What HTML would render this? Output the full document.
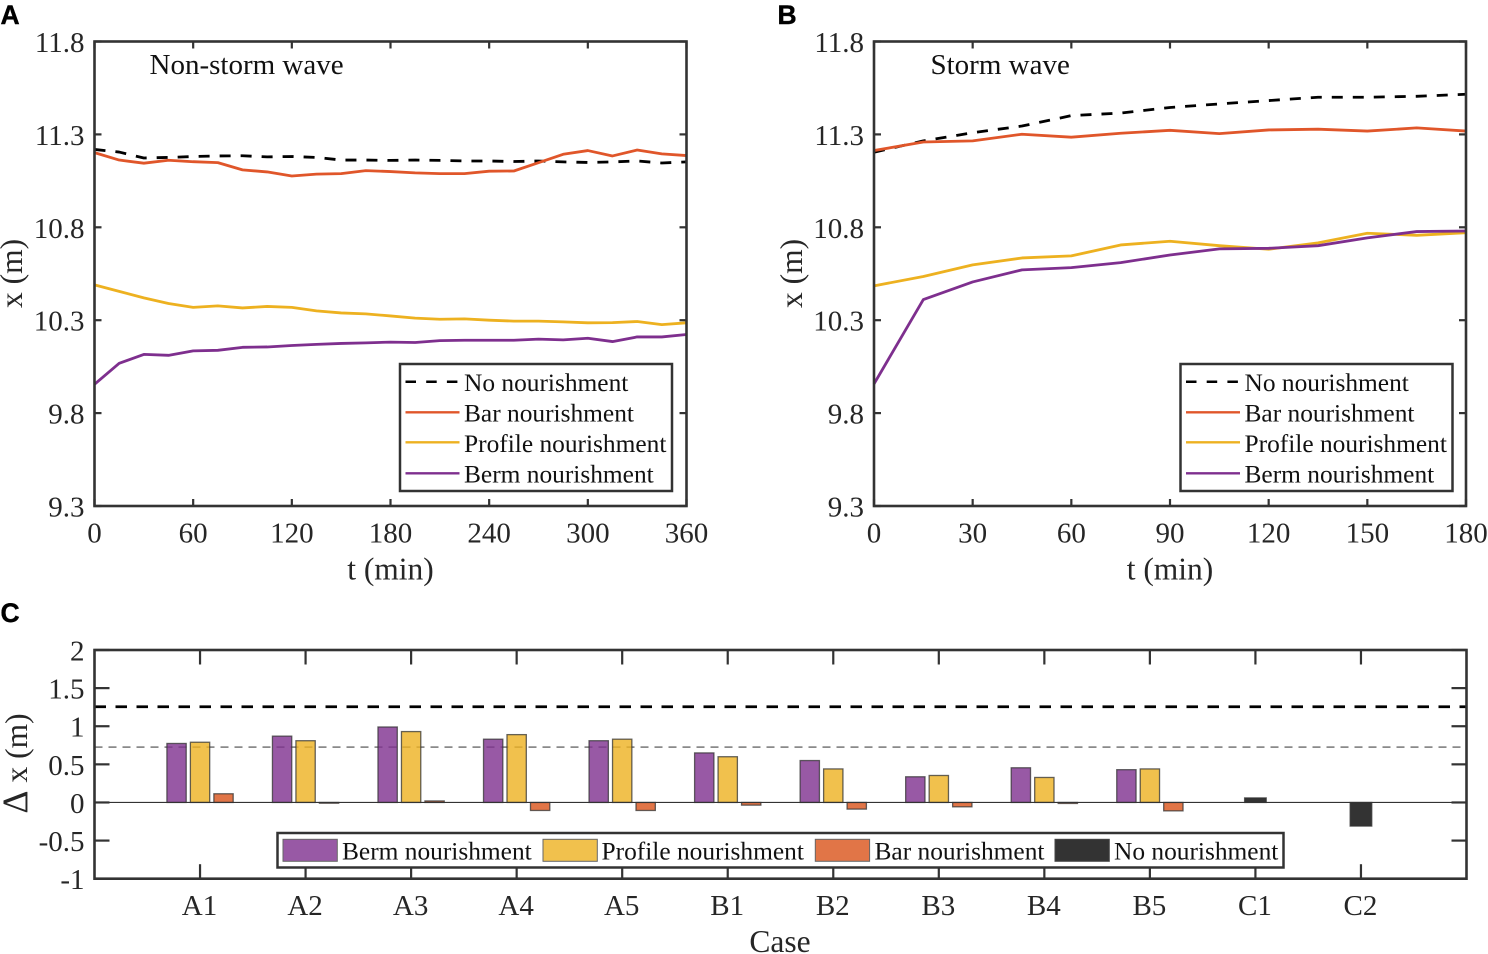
<!DOCTYPE html>
<html lang="en">
<head>
<meta charset="utf-8">
<title>Shoreline position under nourishment scenarios</title>
<style>
html,body{margin:0;padding:0;background:#fff;width:1488px;height:954px;overflow:hidden}
svg{display:block}
text{font-family:"Liberation Serif",serif;fill:#262626}
.panel-letter{font-family:"Liberation Sans",sans-serif;font-weight:700;font-size:26.5px;fill:#000;stroke:#000;stroke-width:.4}
.tick{font-size:29px}
.label{font-size:31.5px}
.note{font-size:29px;fill:#111}
.leg{font-size:25.4px;fill:#111}
.legc{font-size:25.4px;fill:#111}
</style>
</head>
<body>
<svg id="figure" xmlns="http://www.w3.org/2000/svg" width="1488" height="954" viewBox="0 0 1488 954">
  <text class="panel-letter" x="0.5" y="24">A</text>
  <text class="panel-letter" x="777.5" y="24">B</text>
  <text class="panel-letter" x="0.5" y="622">C</text>
  <g id="panelA"></g>
  <g id="panelB"></g>
  <g id="panelC"></g>

  <text class="note" x="149.5" y="74">Non-storm wave</text>
  <text class="note" x="930.5" y="74">Storm wave</text>

  <text class="label" x="390.5" y="579.5" text-anchor="middle">t (min)</text>
  <text class="label" x="1170" y="579.5" text-anchor="middle">t (min)</text>
  <text class="label" transform="translate(22,273.5) rotate(-90)" text-anchor="middle">x (m)</text>
  <text class="label" transform="translate(802,273.5) rotate(-90)" text-anchor="middle">x (m)</text>
  <text class="label" transform="translate(27,763.5) rotate(-90)" text-anchor="middle"><tspan font-size="36">Δ</tspan> x (m)</text>
  <text class="label" x="780" y="952" text-anchor="middle">Case</text>

  <g>
    <rect x="400" y="364" width="272" height="127" fill="#fff" stroke="#333" stroke-width="2.5"/>
    <line x1="405.5" x2="459.5" y1="381.7" y2="381.7" stroke="#000" stroke-width="2.5" stroke-dasharray="10.5 10.2"/>
    <line x1="405.5" x2="459.5" y1="412.3" y2="412.3" stroke="#e0562a" stroke-width="2.3"/>
    <line x1="405.5" x2="459.5" y1="442.3" y2="442.3" stroke="#edb120" stroke-width="2.3"/>
    <line x1="405.5" x2="459.5" y1="473.3" y2="473.3" stroke="#7e2f8e" stroke-width="2.3"/>
    <text class="leg" x="464" y="391.2">No nourishment</text>
    <text class="leg" x="464" y="421.5">Bar nourishment</text>
    <text class="leg" x="464" y="452">Profile nourishment</text>
    <text class="leg" x="464" y="482.5">Berm nourishment</text>
  </g>
  <g>
    <rect x="1180.5" y="364" width="272" height="127" fill="#fff" stroke="#333" stroke-width="2.5"/>
    <line x1="1186" x2="1240" y1="381.7" y2="381.7" stroke="#000" stroke-width="2.5" stroke-dasharray="10.5 10.2"/>
    <line x1="1186" x2="1240" y1="412.3" y2="412.3" stroke="#e0562a" stroke-width="2.3"/>
    <line x1="1186" x2="1240" y1="442.3" y2="442.3" stroke="#edb120" stroke-width="2.3"/>
    <line x1="1186" x2="1240" y1="473.3" y2="473.3" stroke="#7e2f8e" stroke-width="2.3"/>
    <text class="leg" x="1244.5" y="391.2">No nourishment</text>
    <text class="leg" x="1244.5" y="421.5">Bar nourishment</text>
    <text class="leg" x="1244.5" y="452">Profile nourishment</text>
    <text class="leg" x="1244.5" y="482.5">Berm nourishment</text>
  </g>
  <g>
    <rect x="277.5" y="833" width="1006" height="34.5" fill="#fff" stroke="#333" stroke-width="2.5"/>
    <rect x="283" y="839.3" width="54.3" height="22" fill="#9859a5" stroke="#666" stroke-width="1"/>
    <rect x="543" y="839.3" width="54.3" height="22" fill="#f1c14d" stroke="#666" stroke-width="1"/>
    <rect x="815.3" y="839.3" width="54.3" height="22" fill="#e17547" stroke="#666" stroke-width="1"/>
    <rect x="1055" y="839.3" width="54.3" height="22" fill="#333" stroke="#444" stroke-width="1"/>
    <text class="legc" x="342" y="859.5">Berm nourishment</text>
    <text class="legc" x="601.5" y="859.5">Profile nourishment</text>
    <text class="legc" x="874.5" y="859.5">Bar nourishment</text>
    <text class="legc" x="1114" y="859.5">No nourishment</text>
  </g>
</svg>
<script>
// ---- Panel A data (non-storm wave) ----
const timeA = [0,15,30,45,60,75,90,105,120,135,150,165,180,195,210,225,240,255,270,285,300,315,330,345,360];
const noNourishA = [11.219,11.205,11.173,11.176,11.181,11.184,11.185,11.179,11.181,11.176,11.162,11.162,11.160,11.162,11.160,11.157,11.157,11.154,11.157,11.152,11.149,11.152,11.157,11.146,11.152];
const barA = [11.202,11.162,11.145,11.161,11.153,11.148,11.109,11.098,11.076,11.086,11.089,11.105,11.100,11.093,11.089,11.089,11.102,11.103,11.148,11.193,11.213,11.184,11.216,11.195,11.186];
const profileA = [10.490,10.455,10.420,10.390,10.369,10.377,10.366,10.374,10.369,10.350,10.339,10.334,10.323,10.311,10.305,10.307,10.300,10.295,10.295,10.291,10.286,10.287,10.293,10.276,10.286];
const bermA = [9.955,10.068,10.116,10.111,10.135,10.138,10.154,10.156,10.164,10.170,10.175,10.178,10.182,10.180,10.190,10.192,10.192,10.192,10.198,10.194,10.203,10.185,10.210,10.210,10.223];
const xTicksA = [0,60,120,180,240,300,360];

// ---- Panel B data (storm wave) ----
const timeB = [0,15,30,45,60,75,90,105,120,135,150,165,180];
const noNourishB = [11.204,11.265,11.309,11.345,11.401,11.415,11.445,11.464,11.482,11.500,11.500,11.505,11.516];
const barB = [11.213,11.259,11.265,11.301,11.285,11.306,11.322,11.304,11.324,11.328,11.318,11.335,11.318];
const profileB = [10.485,10.535,10.598,10.635,10.646,10.705,10.725,10.701,10.682,10.716,10.768,10.757,10.771];
const bermB = [9.957,10.411,10.506,10.571,10.583,10.610,10.651,10.684,10.687,10.701,10.743,10.777,10.780];
const xTicksB = [0,30,60,90,120,150,180];

const yTicksXT = ['11.8','11.3','10.8','10.3','9.8','9.3'];

// ---- Panel C data ----
const cases = ['A1','A2','A3','A4','A5','B1','B2','B3','B4','B5','C1','C2'];
const bermDelta = [0.774,0.87,0.99,0.83,0.81,0.65,0.55,0.337,0.455,0.43,null,null];
const profileDelta = [0.79,0.81,0.93,0.89,0.83,0.60,0.44,0.354,0.328,0.44,null,null];
const barDelta = [0.114,-0.01,0.02,-0.105,-0.105,-0.035,-0.087,-0.057,-0.013,-0.11,null,null];
const noneDelta = [null,null,null,null,null,null,null,null,null,null,0.06,-0.31];
const yTicksC = ['2','1.5','1','0.5','0','-0.5','-1'];
const refBlack = 1.256;
const refGray = 0.726;

const NS = 'http://www.w3.org/2000/svg';
function add(parent, tag, attrs, text) {
  const el = document.createElementNS(NS, tag);
  for (const k in attrs) el.setAttribute(k, attrs[k]);
  if (text !== undefined) el.textContent = text;
  parent.appendChild(el);
  return el;
}
const AXIS = '#333';

function linePanel(groupId, left, right, tMax, times, series, xTicks, prefix) {
  const g = document.getElementById(groupId);
  const top = 41.5, bottom = 506;
  const xScale = t => left + (right - left) * t / tMax;
  const yScale = v => bottom - (bottom - top) * (v - 9.3) / 2.5;

  series.forEach(s => {
    const pts = times.map((t, i) => xScale(t).toFixed(2) + ',' + yScale(s.values[i]).toFixed(2)).join(' ');
    const attrs = {points: pts, fill: 'none', stroke: s.color, 'stroke-width': 2.8, 'stroke-linejoin': 'round'};
    if (s.dash) attrs['stroke-dasharray'] = s.dash;
    const el = add(g, 'polyline', attrs);
    
    
  });

  yTicksXT.forEach(lbl => {
    const y = yScale(parseFloat(lbl));
    [[left, left + 7], [right - 7, right]].forEach(p => {
      const tk = add(g, 'line', {x1: p[0], x2: p[1], y1: y, y2: y, stroke: AXIS, 'stroke-width': 2.2});
      
      
    });
    const tx = add(g, 'text', {class: 'tick', x: left - 10, y: y + 10.5, 'text-anchor': 'end'}, lbl);
    
    
  });

  xTicks.forEach(t => {
    const x = xScale(t);
    [[top, top + 7], [bottom - 7, bottom]].forEach(p => {
      const tk = add(g, 'line', {x1: x, x2: x, y1: p[0], y2: p[1], stroke: AXIS, 'stroke-width': 2.2});
      
      
    });
    const tx = add(g, 'text', {class: 'tick', x: x, y: 542.5, 'text-anchor': 'middle'}, String(t));
    
    
  });

  const box = add(g, 'rect', {x: left, y: top, width: right - left, height: bottom - top, fill: 'none', stroke: AXIS, 'stroke-width': 2.6});
  
  
}

linePanel('panelA', 94.5, 686.5, 360, timeA, [
  {name: 'no-nourishment', values: noNourishA, color: '#000', dash: '11 10'},
  {name: 'bar-nourishment', values: barA, color: '#e0562a'},
  {name: 'profile-nourishment', values: profileA, color: '#edb120'},
  {name: 'berm-nourishment', values: bermA, color: '#7e2f8e'}
], xTicksA, 'panel-a');

linePanel('panelB', 874, 1466, 180, timeB, [
  {name: 'no-nourishment', values: noNourishB, color: '#000', dash: '11 10'},
  {name: 'bar-nourishment', values: barB, color: '#e0562a'},
  {name: 'profile-nourishment', values: profileB, color: '#edb120'},
  {name: 'berm-nourishment', values: bermB, color: '#7e2f8e'}
], xTicksB, 'panel-b');

(function barPanel() {
  const g = document.getElementById('panelC');
  const left = 94.5, right = 1466.5, top = 650, bottom = 878.7;
  const xScale = i => left + (right - left) * (i + 1) / 13;
  const yScale = v => bottom - (bottom - top) * (v + 1) / 3;

  const gray = add(g, 'line', {x1: left, x2: right, y1: yScale(refGray), y2: yScale(refGray), stroke: '#8a8a8a', 'stroke-width': 1.7, 'stroke-dasharray': '8 6'});
  
  
  const black = add(g, 'line', {x1: left, x2: right, y1: yScale(refBlack), y2: yScale(refBlack), stroke: '#000', 'stroke-width': 2.8, 'stroke-dasharray': '11.5 9.5'});
  
  

  const groups = [
    {name: 'berm', values: bermDelta, color: '#7e2f8e', off: -0.2225, w: 0.183},
    {name: 'profile', values: profileDelta, color: '#edb120', off: 0, w: 0.183},
    {name: 'bar', values: barDelta, color: '#d95319', off: 0.2225, w: 0.183},
    {name: 'none', values: noneDelta, color: '#000', off: 0, w: 0.205}
  ];
  const unit = (right - left) / 13;
  groups.forEach(s => {
    s.values.forEach((v, i) => {
      if (v === null) return;
      const cx = xScale(i) + s.off * unit;
      const w = s.w * unit;
      const y0 = yScale(0), y1 = yScale(v);
      const r = add(g, 'rect', {x: cx - w / 2, y: Math.min(y0, y1), width: w, height: Math.abs(y1 - y0), fill: s.color, 'fill-opacity': 0.8, stroke: '#333', 'stroke-opacity': 0.75, 'stroke-width': 1.3});
      
      
    });
  });

  const zero = add(g, 'line', {x1: left, x2: right, y1: yScale(0), y2: yScale(0), stroke: '#333', 'stroke-width': 1.1});
  
  

  yTicksC.forEach(lbl => {
    const y = yScale(parseFloat(lbl));
    [[left, left + 15], [right - 15, right]].forEach(p => {
      const tk = add(g, 'line', {x1: p[0], x2: p[1], y1: y, y2: y, stroke: AXIS, 'stroke-width': 2.2});
      
      
    });
    const tx = add(g, 'text', {class: 'tick', x: left - 10, y: y + 10.5, 'text-anchor': 'end'}, lbl);
    
    
  });

  cases.forEach((c, i) => {
    const x = xScale(i);
    [[top, top + 14.5], [bottom - 14.5, bottom]].forEach(p => {
      const tk = add(g, 'line', {x1: x, x2: x, y1: p[0], y2: p[1], stroke: AXIS, 'stroke-width': 2.2});
      
      
    });
    const tx = add(g, 'text', {class: 'tick', x: x - 0.5, y: 915, 'text-anchor': 'middle'}, c);
    
    
  });

  const box = add(g, 'rect', {x: left, y: top, width: right - left, height: bottom - top, fill: 'none', stroke: AXIS, 'stroke-width': 2.6});
  
  
})();
</script>
</body>
</html>
